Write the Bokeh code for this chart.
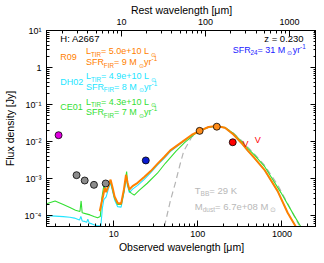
from bokeh.plotting import figure
from bokeh.models import Range1d, LogScale, LogAxis, FixedTicker, CustomJSTickFormatter, Label
from bokeh.core.properties import value
from bokeh.embed import file_html
from bokeh.resources import INLINE
import math

# ---------------- data ----------------
Z = 0.230
X_MIN, X_MAX = 1.58, 2580.0
Y_MIN, Y_MAX = 5.1e-5, 10.0

# photometry
mag_lam = [2.2];            mag_f = [1.49e-2]
irac_lam = [3.6, 4.5, 5.8, 8.0]; irac_f = [1.24e-3, 8.9e-4, 6.8e-4, 7.4e-4]
mips_lam = [24.0];          mips_f = [3.1e-3]
pacs_lam = [105.0, 168.0];  pacs_f = [1.95e-2, 2.53e-2]
spire_lam = [260.0];        spire_f = [9.6e-3]
ul_lam = [370.0, 517.0];    ul_f = [8.7e-3, 1.1e-2]

# R09 template (orange)
r09_lam = [6.8, 7.1, 7.45, 7.8, 8.1, 8.6, 9.15, 9.7, 10.2, 11.1, 12.2, 13.2, 13.95, 14.6, 15.3, 16.7,
           19.2, 23, 27.5, 33, 40, 47, 65, 85, 105, 134, 167, 210, 263, 330, 395, 472, 620, 890, 1170, 1460]
r09_f = [1.32e-4, 2.1e-4, 3.4e-4, 5.6e-4, 4.3e-4, 6.3e-4, 9.4e-4, 5.5e-4, 3.3e-4, 2.2e-4, 2.1e-4, 5.2e-4,
         1.27e-3, 7.6e-4, 5.1e-4, 6.3e-4, 7.7e-4, 1.1e-3, 1.6e-3, 2.5e-3, 3.9e-3, 5.8e-3, 9.8e-3, 1.53e-2,
         1.95e-2, 2.48e-2, 2.64e-2, 2.38e-2, 1.58e-2, 9.2e-3, 5.6e-3, 3.6e-3, 1.73e-3, 4.6e-4, 1.2e-4, 5.1e-5]

# DH02 template (cyan)
dh02_lam = [1.58, 2.0, 2.5, 3.0, 3.4, 3.7, 3.9, 4.05, 4.2, 4.5, 4.75, 4.9, 5.1, 5.5, 5.9, 6.3, 6.7, 7.0,
            7.3, 7.6, 8.1, 8.6, 9.15, 9.7, 10.2, 11.1, 12.2, 13.2, 13.95, 14.6, 15.3, 16.7, 19.2, 23, 27.5,
            33, 40, 47, 65, 85, 105, 134, 167, 210, 263, 330, 395, 472, 620, 890, 1170, 1460]
dh02_f = [1.0e-4, 9.7e-5, 9.4e-5, 9.1e-5, 8.6e-5, 8.0e-5, 7.6e-5, 9.5e-5, 7.2e-5, 7.0e-5, 6.6e-5, 8.0e-5,
          6.3e-5, 6.0e-5, 5.6e-5, 5.4e-5, 5.3e-5, 5.2e-5, 1.6e-4, 2.7e-4, 3.2e-4, 5.2e-4, 7.6e-4, 4.4e-4,
          2.7e-4, 1.75e-4, 1.7e-4, 4.2e-4, 1.0e-3, 6.2e-4, 4.2e-4, 5.2e-4, 6.6e-4, 9.5e-4, 1.45e-3, 2.3e-3,
          3.6e-3, 5.4e-3, 9.4e-3, 1.5e-2, 1.93e-2, 2.45e-2, 2.6e-2, 2.35e-2, 1.56e-2, 9.0e-3, 5.5e-3, 3.5e-3,
          1.7e-3, 4.5e-4, 1.2e-4, 5.1e-5]

# CE01 template (green)
ce01_lam = [1.58, 2.0, 2.5, 3.0, 3.5, 3.95, 4.08, 4.2, 4.7, 5.2, 5.8, 6.4, 6.9, 7.2, 7.6, 8.1, 8.6, 9.1,
            9.7, 10.2, 11.1, 12.2, 13.2, 13.9, 14.2, 14.6, 15.3, 16.2, 17.5, 20, 25, 33, 41, 55, 70, 90, 105,
            134, 167, 210, 263, 330, 395, 472, 620, 973, 1395, 1680]
ce01_f = [2.1e-4, 2.5e-4, 2.0e-4, 1.65e-4, 1.4e-4, 1.3e-4, 2.5e-4, 1.2e-4, 1.12e-4, 1.05e-4, 9.5e-5, 8.8e-5,
          9.5e-5, 3.0e-4, 6.5e-4, 4.5e-4, 6.5e-4, 9.0e-4, 4.8e-4, 3.0e-4, 2.0e-4, 2.0e-4, 4.5e-4, 1.1e-3,
          1.55e-3, 7.0e-4, 4.6e-4, 4.0e-4, 3.6e-4, 4.8e-4, 7.5e-4, 1.4e-3, 2.6e-3, 5.5e-3, 9.5e-3, 1.55e-2,
          1.95e-2, 2.45e-2, 2.6e-2, 2.4e-2, 1.68e-2, 1.02e-2, 6.5e-3, 4.3e-3, 2.15e-3, 4.2e-4, 1.02e-4, 5.0e-5]

# modified blackbody (grey dashed)
bb_lam = [40, 47, 54, 61, 68, 85, 105, 134, 167, 210, 263, 330, 395, 472, 620, 890, 1200, 1600]
bb_f = [5.1e-5, 2.5e-4, 7.7e-4, 2.3e-3, 5.6e-3, 1.35e-2, 2.0e-2, 2.5e-2, 2.62e-2, 2.42e-2, 1.7e-2, 1.07e-2,
        7.0e-3, 4.6e-3, 2.3e-3, 6.8e-4, 1.9e-4, 5.5e-5]

# ---------------- style ----------------
FONT = "Liberation Sans"
ORANGE = "#ff8000"
CYAN = "#22e5ff"
GREEN = "#33e033"
BLUE = "#1a1aff"
GREY_TXT = "#b8b8b8"

p = figure(width=316, height=255, x_axis_type="log", y_axis_type="log",
           x_range=Range1d(X_MIN, X_MAX), y_range=Range1d(Y_MIN, Y_MAX),
           output_backend="svg", toolbar_location=None,
           min_border_left=43, min_border_right=0, min_border_top=30, min_border_bottom=24,
           x_axis_label="Observed wavelength [μm]", y_axis_label="Flux density [Jy]")
p.background_fill_color = "white"
p.border_fill_color = "white"
p.outline_line_color = "black"
p.outline_line_width = 1
p.xgrid.visible = False
p.ygrid.visible = False


def minors(lo, hi):
    out = []
    for e in range(-6, 5):
        for k in range(2, 10):
            v = k * 10.0 ** e
            if lo <= v <= hi:
                out.append(v)
    return out


bottom = p.xaxis[0]
left = p.yaxis[0]
bottom.ticker = FixedTicker(ticks=[10, 100, 1000], minor_ticks=minors(X_MIN, X_MAX))
bottom.formatter = CustomJSTickFormatter(code="return tick.toFixed(0);")

YFMT = """
const e = Math.round(Math.log10(tick));
if (e === 0) return "1";
const s = {"-":"\u207b","0":"\u2070","1":"\u00b9","2":"\u00b2","3":"\u00b3","4":"\u2074","5":"\u2075","6":"\u2076","7":"\u2077","8":"\u2078","9":"\u2079"};
return "10" + String(e).split("").map(c => s[c]).join("");
"""
yticks = [1e-4, 1e-3, 1e-2, 1e-1, 1.0, 10.0]
left.ticker = FixedTicker(ticks=yticks, minor_ticks=minors(Y_MIN, Y_MAX))
left.formatter = CustomJSTickFormatter(code=YFMT)

p.extra_x_ranges = {"rest": Range1d(X_MIN / (1 + Z), X_MAX / (1 + Z))}
p.extra_x_scales = {"rest": LogScale()}
top = LogAxis(x_range_name="rest", axis_label="Rest wavelength [μm]",
              ticker=FixedTicker(ticks=[10, 100, 1000], minor_ticks=minors(X_MIN / (1 + Z), X_MAX / (1 + Z))),
              formatter=CustomJSTickFormatter(code="return tick.toFixed(0);"))
p.add_layout(top, "above")
right = LogAxis(ticker=FixedTicker(ticks=yticks, minor_ticks=minors(Y_MIN, Y_MAX)),
                formatter=CustomJSTickFormatter(code="return '';"))
p.add_layout(right, "right")

for ax in [bottom, left, top, right]:
    ax.major_tick_in = 6
    ax.major_tick_out = 0
    ax.minor_tick_in = 3
    ax.minor_tick_out = 0
    ax.axis_line_color = "black"
    ax.major_tick_line_color = "black"
    ax.minor_tick_line_color = "black"
    ax.major_label_text_font = FONT
    ax.major_label_text_font_size = "9px"
    ax.major_label_text_color = "black"
    ax.axis_label_text_font = FONT
    ax.axis_label_text_font_size = "10.5px"
    ax.axis_label_text_font_style = "normal"
    ax.axis_label_text_color = "black"
bottom.major_label_standoff = 4
bottom.axis_label_standoff = 1
top.major_label_standoff = 6
top.axis_label_standoff = 0
left.major_label_standoff = 5
left.axis_label_standoff = 6
right.major_label_standoff = 0
right.major_label_text_font_size = "1px"

# ---------------- curves ----------------
p.line(bb_lam, bb_f, line_color="#b4b4b4", line_width=1.2, line_dash="6 4")
p.line(dh02_lam, dh02_f, line_color=CYAN, line_width=1.1)
p.line(ce01_lam, ce01_f, line_color=GREEN, line_width=1.1)
p.line(r09_lam, r09_f, line_color=ORANGE, line_width=2.0)

# ---------------- points ----------------
p.scatter(mag_lam, mag_f, size=7, fill_color="#e000e0", line_color="black", line_width=0.8)
p.scatter(irac_lam, irac_f, size=7, fill_color="#8c8c8c", line_color="black", line_width=0.8)
p.scatter(mips_lam, mips_f, size=7, fill_color="#0a1ad0", line_color="black", line_width=0.8)
p.scatter(pacs_lam, pacs_f, size=7, fill_color="#ff8c1a", line_color="black", line_width=0.8)
p.scatter(spire_lam, spire_f, size=7, fill_color="#ff0000", line_color="black", line_width=0.8)
p.text(ul_lam, ul_f, text=["V"] * len(ul_lam), text_color="#ff0000", text_font=value(FONT),
       text_font_size="9px", text_align="center", text_baseline="middle")

# ---------------- annotations ----------------
REF_L, REF_T, REF_W, REF_H = 43.0, 30.0, 273.0, 201.0
LX0, LX1 = math.log10(X_MIN), math.log10(X_MAX)
LY0, LY1 = math.log10(Y_MIN), math.log10(Y_MAX)


def fx(px):
    return 10 ** (LX0 + (px - REF_L) / REF_W * (LX1 - LX0))


def fy(py):
    return 10 ** (LY1 - (py - REF_T) / REF_H * (LY1 - LY0))


CW = {' ': .278, '=': .584, '+': .584, '-': .333, '.': .278, ':': .278, 'e': .556, 'L': .556, 'T': .611,
      'I': .278, 'R': .722, 'S': .667, 'F': .611, 'M': .833, 'y': .5, 'r': .333, 'H': .722, 'A': .667,
      'z': .5, 'K': .667, 'B': .667, 'd': .556, 'u': .556, 's': .5, 't': .278, '⊙': .84, 'C': .722,
      'D': .722, 'E': .667}


def tw(s, size):
    return sum(CW.get(c, .556) for c in s) * size


def rich_width(parts, size):
    return sum(tw(s, size if k == "n" else size * 0.7) for s, k in parts)


def rich(px, py, parts, color, size=9.0):
    off = 0.0
    for s, k in parts:
        fs = size if k == "n" else size * 0.7
        dy = 0.0 if k == "n" else (3.0 if k == "sub" else -3.5)
        p.add_layout(Label(x=fx(px + off), y=fy(py + dy), text=s, text_color=color, text_font=FONT,
                           text_font_size=f"{fs:.1f}px", text_align="left", text_baseline="middle"))
        off += tw(s, fs)


def Lline(val):
    return [("L", "n"), ("TIR", "sub"), (f" = {val} L", "n"), ("⊙", "sub")]


def Sline(val, sub="FIR"):
    return [("SFR", "n"), (sub, "sub"), (f" = {val} M", "n"), ("⊙", "sub"), ("yr", "n"), ("-1", "sup")]


rich(57, 38, [("H: A2667", "n")], "black", 9.5)
p.add_layout(Label(x=fx(303), y=fy(38), text="z = 0.230", text_color="black", text_font=FONT,
                   text_font_size="9.5px", text_align="right", text_baseline="middle"))
s24 = Sline("31", "24")
rich(305 - rich_width(s24, 9.0), 50, s24, BLUE)

groups = [("R09", "5.0e+10", "9", ORANGE, 57.0),
          ("DH02", "4.9e+10", "8", CYAN, 82.5),
          ("CE01", "4.3e+10", "7", GREEN, 108.5)]
for name, lt, sfr, col, yc in groups:
    rich(57, yc, [(name, "n")], col)
    rich(83, yc - 5.5, Lline(lt), col)
    rich(83, yc + 5.5, Sline(sfr), col)

rich(193, 194, [("T", "n"), ("BB", "sub"), (" = 29 K", "n")], GREY_TXT, 9.5)
rich(193, 211, [("M", "n"), ("dust", "sub"), (" = 6.7e+08 M", "n"), ("⊙", "sub")], GREY_TXT, 9.5)

open("out.html", "w").write(file_html(p, INLINE))
